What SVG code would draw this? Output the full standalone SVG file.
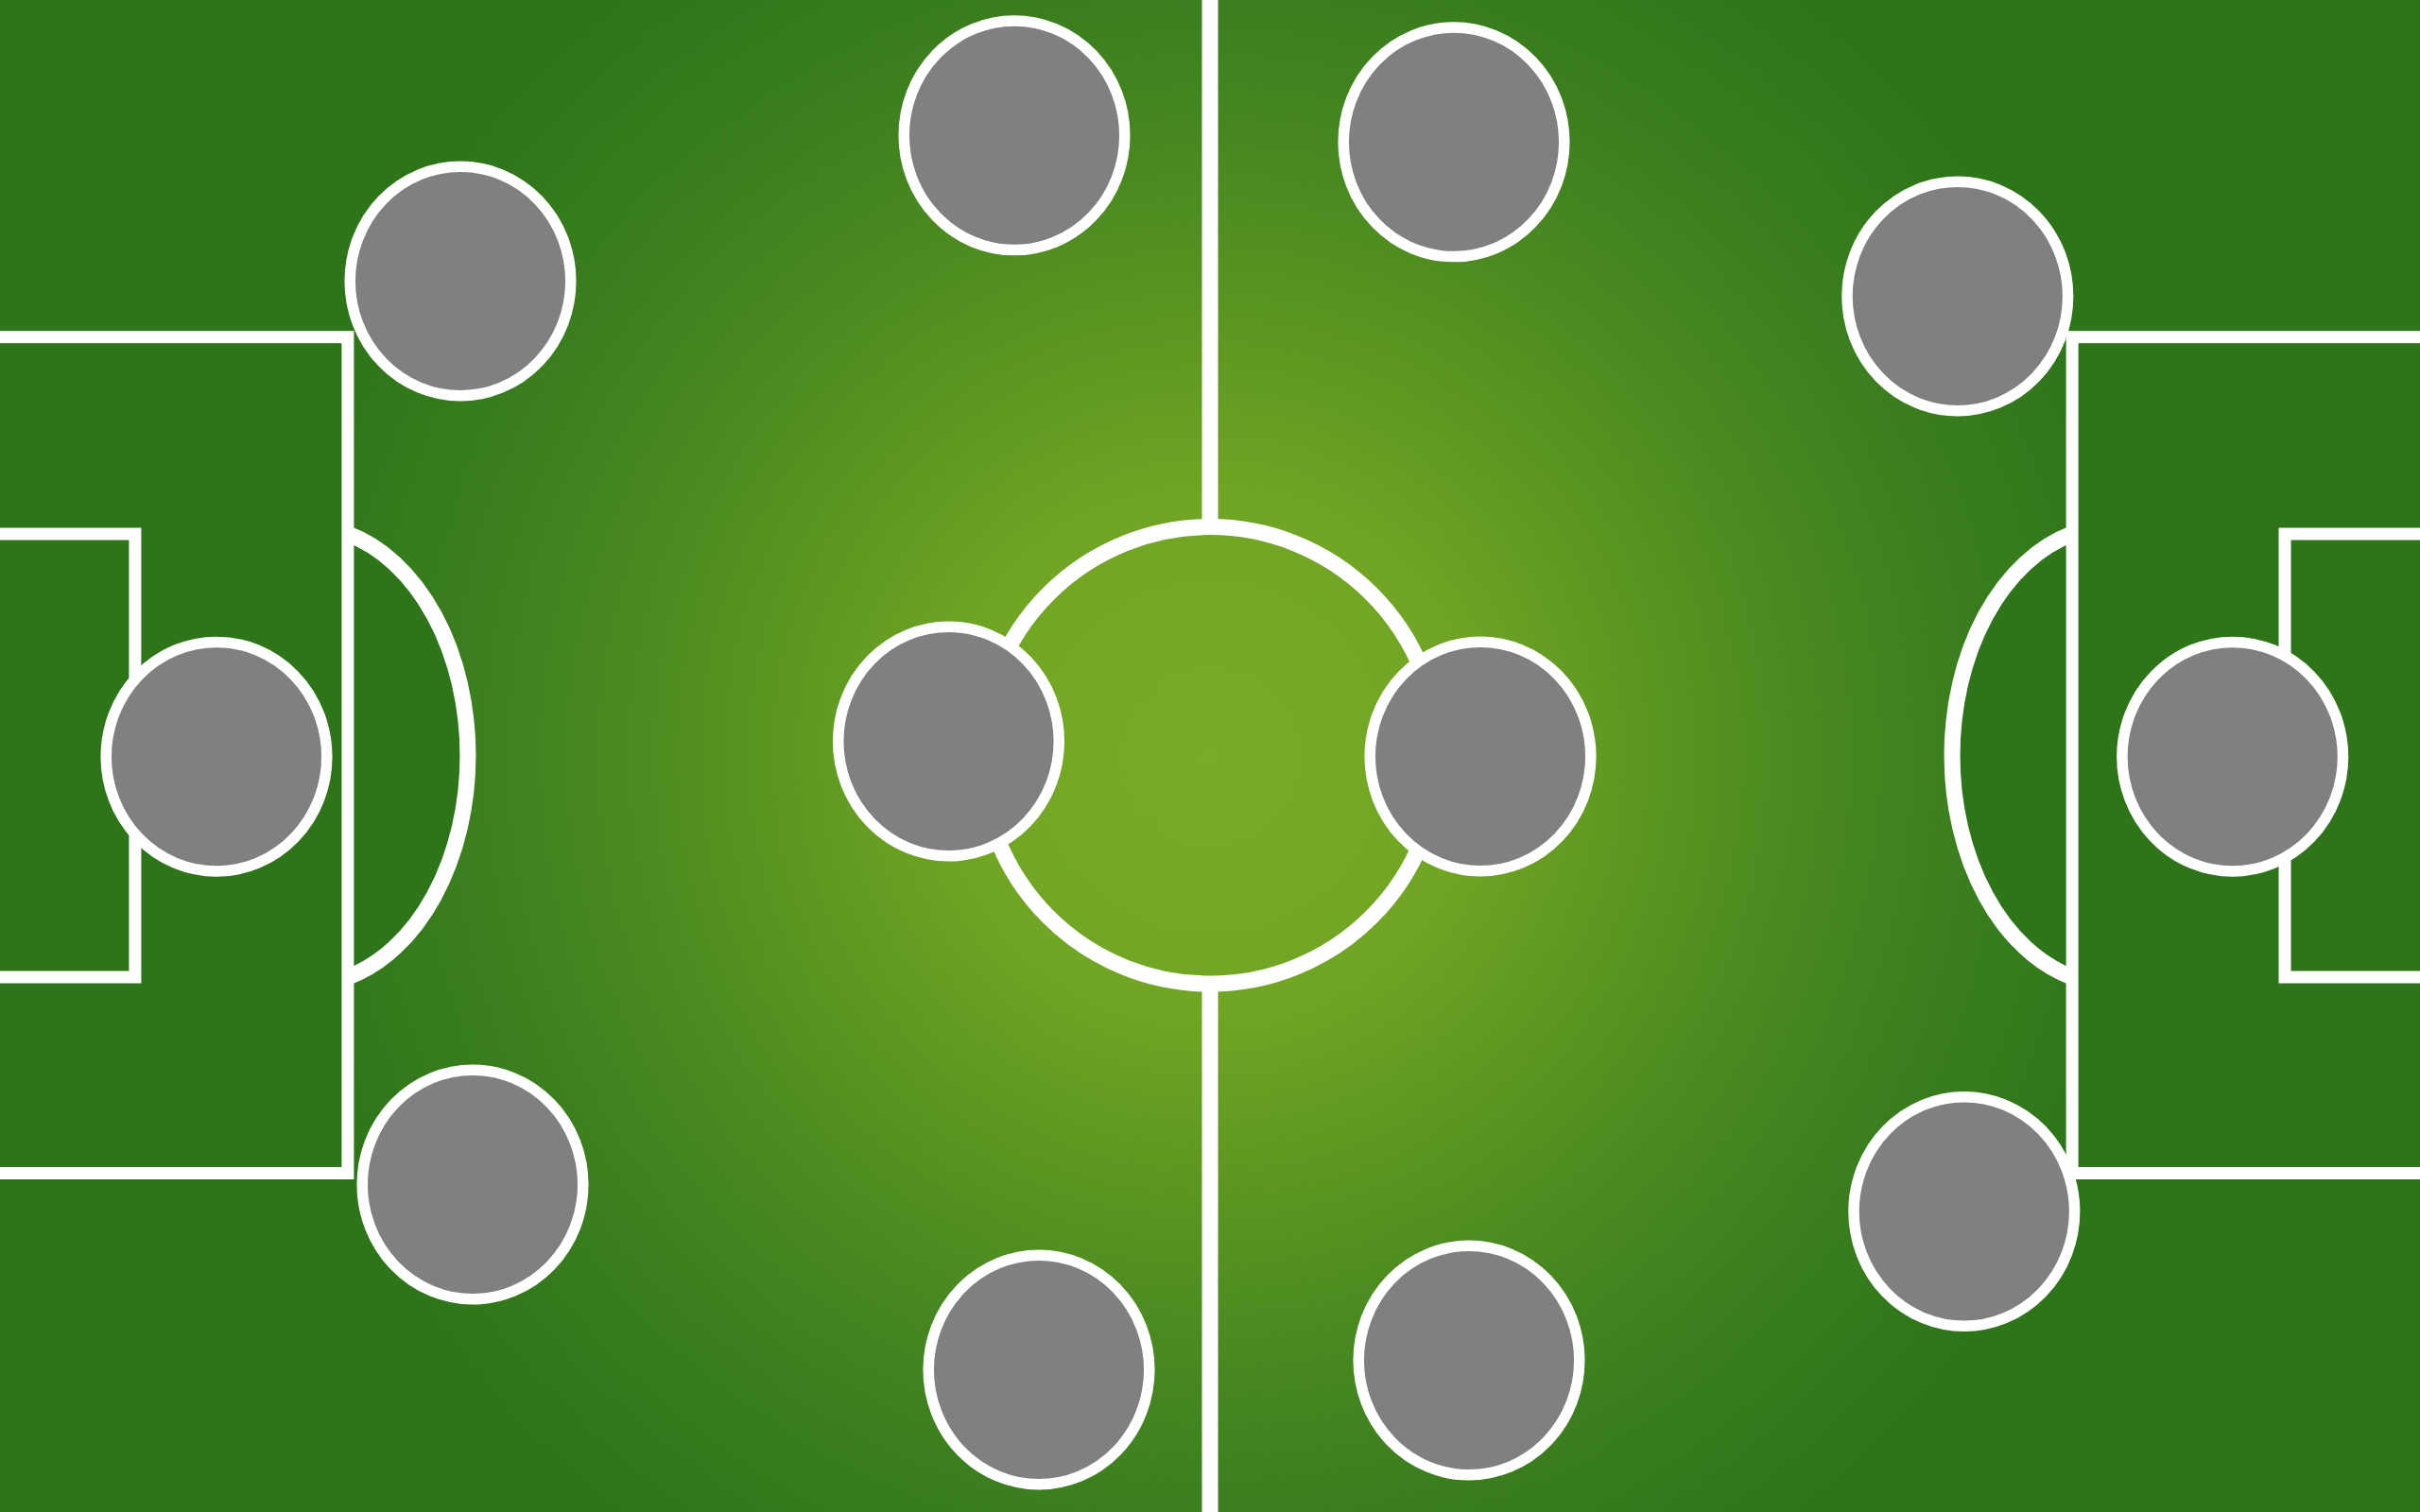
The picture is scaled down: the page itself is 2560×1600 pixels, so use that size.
<svg xmlns="http://www.w3.org/2000/svg" width="2560" height="1600" viewBox="0 0 2560 1600">
  <defs>
    <radialGradient id="grass" gradientUnits="userSpaceOnUse" cx="1280" cy="800" r="1100">
      <stop offset="0" stop-color="#79ac26"/>
      <stop offset="0.25" stop-color="#70a523"/>
      <stop offset="0.56" stop-color="#4a8a20"/>
      <stop offset="0.72" stop-color="#3b7f1e"/>
      <stop offset="0.92" stop-color="#2e7519"/>
      <stop offset="1" stop-color="#2e7519"/>
    </radialGradient>
  </defs>
  <style>
    .line { fill: #2e7519; stroke: #ffffff; stroke-width: 13; }
    .thick { fill: none; stroke: #ffffff; stroke-width: 17; }
    .arc { fill: #2e7519; stroke: #ffffff; stroke-width: 17; }
    .player { fill: #808080; stroke: #ffffff; stroke-width: 11.5; }
  </style>
  <rect id="pitch" x="0" y="0" width="2560" height="1600" fill="url(#grass)"/>
  <g id="markings">
    <line class="thick" x1="1280" y1="0" x2="1280" y2="558"/>
    <line class="thick" x1="1280" y1="1041" x2="1280" y2="1600"/>
    <circle class="thick" cx="1280" cy="799.3" r="241.7"/>
    <path class="arc" d="M368,565 A170,242.4 0 0 1 368,1034"/>
    <path class="arc" d="M2192,565 A170,242.4 0 0 0 2192,1034"/>
    <rect class="line" x="-20" y="356.7" width="387.9" height="884.8"/>
    <rect class="line" x="-20" y="565" width="162.9" height="469"/>
    <rect class="line" x="2192.1" y="356.7" width="387.9" height="884.8"/>
    <rect class="line" x="2417" y="565" width="162.9" height="469"/>
  </g>
  <g id="players">
    <g id="p1"><ellipse class="player" cx="487" cy="297.5" rx="116.8" ry="121.3"/></g>
    <g id="p2"><ellipse class="player" cx="1073" cy="143.3" rx="116.8" ry="121.3"/></g>
    <g id="p3"><ellipse class="player" cx="1538" cy="150.3" rx="116.8" ry="121.3"/></g>
    <g id="p4"><ellipse class="player" cx="2070.8" cy="313.5" rx="116.8" ry="121.3"/></g>
    <g id="p5"><ellipse class="player" cx="229" cy="800.7" rx="116.8" ry="121.3"/></g>
    <g id="p6"><ellipse class="player" cx="1003.5" cy="784.5" rx="116.8" ry="121.3"/></g>
    <g id="p7"><ellipse class="player" cx="1566" cy="800.5" rx="116.8" ry="121.3"/></g>
    <g id="p8"><ellipse class="player" cx="2361.7" cy="800.7" rx="116.8" ry="121.3"/></g>
    <g id="p9"><ellipse class="player" cx="500" cy="1253.5" rx="116.8" ry="121.3"/></g>
    <g id="p10"><ellipse class="player" cx="1099" cy="1449.5" rx="116.8" ry="121.3"/></g>
    <g id="p11"><ellipse class="player" cx="1554" cy="1439.5" rx="116.8" ry="121.3"/></g>
    <g id="p12"><ellipse class="player" cx="2077.8" cy="1282" rx="116.8" ry="121.3"/></g>
  </g>
</svg>
